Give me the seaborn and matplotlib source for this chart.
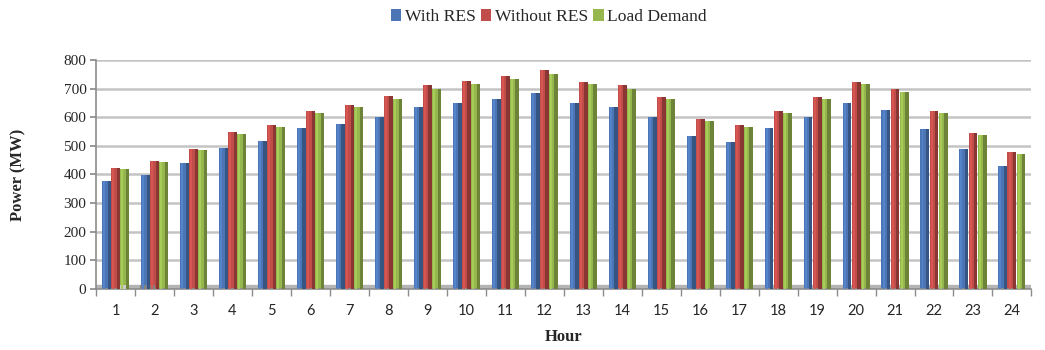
import numpy as np
import pandas as pd
import matplotlib
matplotlib.use("Agg")
import matplotlib.pyplot as plt
import seaborn as sns

hours = list(range(1, 25))
with_res = [378, 399, 440, 491, 516, 562, 577, 602, 637, 651, 665, 684,
            649, 634, 601, 534, 515, 562, 602, 649, 626, 560, 488, 430]
without_res = [421, 448, 488, 547, 573, 622, 642, 673, 712, 727, 744, 764,
               724, 712, 672, 595, 572, 622, 672, 724, 698, 620, 544, 477]
load_demand = [419, 444, 485, 540, 566, 616, 634, 663, 700, 715, 733, 752,
               715, 700, 663, 587, 566, 616, 663, 715, 688, 613, 537, 471]
series_names = ["With RES", "Without RES", "Load Demand"]
y_ticks = [0, 100, 200, 300, 400, 500, 600, 700, 800]

colors = ["#3a72c6", "#d43a35", "#9cc83c"]

df = pd.DataFrame({
    "Hour": hours * 3,
    "Power": with_res + without_res + load_demand,
    "Series": [series_names[0]] * 24 + [series_names[1]] * 24 + [series_names[2]] * 24,
})

sns.set_theme(style="white")
plt.rcParams["font.family"] = ["Liberation Serif", "DejaVu Serif"]

fig = plt.figure(figsize=(10.45, 3.5), dpi=100)
ax = fig.add_axes([0.092, 0.174, 0.895, 0.655])

# floor band and horizontal grid
ax.axhspan(0, 14, color="#b4b4b4", zorder=0)
for v in y_ticks[1:]:
    ax.axhline(v, color="#c4c4c4", lw=1.8, zorder=0)

sns.barplot(data=df, x="Hour", y="Power", hue="Series", palette=colors,
            width=0.7, gap=0.02, ax=ax, legend=True, zorder=2,
            edgecolor="none")

# shaded strips on each bar for a rounded look
for bar in ax.patches:
    if bar.get_height() <= 0:
        continue
    fc = np.array(matplotlib.colors.to_rgb(bar.get_facecolor()))
    x0, w, h = bar.get_x(), bar.get_width(), bar.get_height()
    ax.add_patch(plt.Rectangle((x0 + w * 0.62, 0), w * 0.38, h,
                               color=fc * 0.72, lw=0, zorder=3))
    ax.add_patch(plt.Rectangle((x0 + w * 0.12, 0), w * 0.22, h,
                               color=np.clip(fc * 1.12, 0, 1), lw=0, zorder=3))

ax.set_ylim(0, 800)
ax.set_xlim(-0.5, 23.5)
ax.set_yticks(y_ticks)
ax.set_yticklabels([str(v) for v in y_ticks], fontsize=11)
ax.set_xticks(range(24))
ax.set_xticklabels([str(h) for h in hours], fontsize=10.5, family="Lato")
ax.set_xticks(np.arange(-0.5, 24, 1), minor=True)
ax.tick_params(axis="x", which="major", length=0, pad=11)
ax.tick_params(axis="x", which="minor", length=5, color="#8c8c8c", direction="out")
ax.tick_params(axis="y", length=4, color="#8c8c8c", direction="out", pad=3)
ax.xaxis.set_ticks_position("bottom")
ax.yaxis.set_ticks_position("left")

for s in ["top", "right"]:
    ax.spines[s].set_visible(False)
for s in ["left", "bottom"]:
    ax.spines[s].set_color("#8c8c8c")
    ax.spines[s].set_linewidth(1.2)

ax.set_xlabel("Hour", fontsize=12, fontweight="bold", labelpad=8)
ax.set_ylabel("Power (MW)", fontsize=12, fontweight="bold", labelpad=27)

handles, labels = ax.get_legend_handles_labels()
ax.legend(handles, labels, loc="upper center", bbox_to_anchor=(0.484, 1.29),
          ncol=3, frameon=False, fontsize=12.6, handlelength=0.6,
          handleheight=0.6, handletextpad=0.2, columnspacing=0.3)

fig.savefig("out.png", dpi=100)
